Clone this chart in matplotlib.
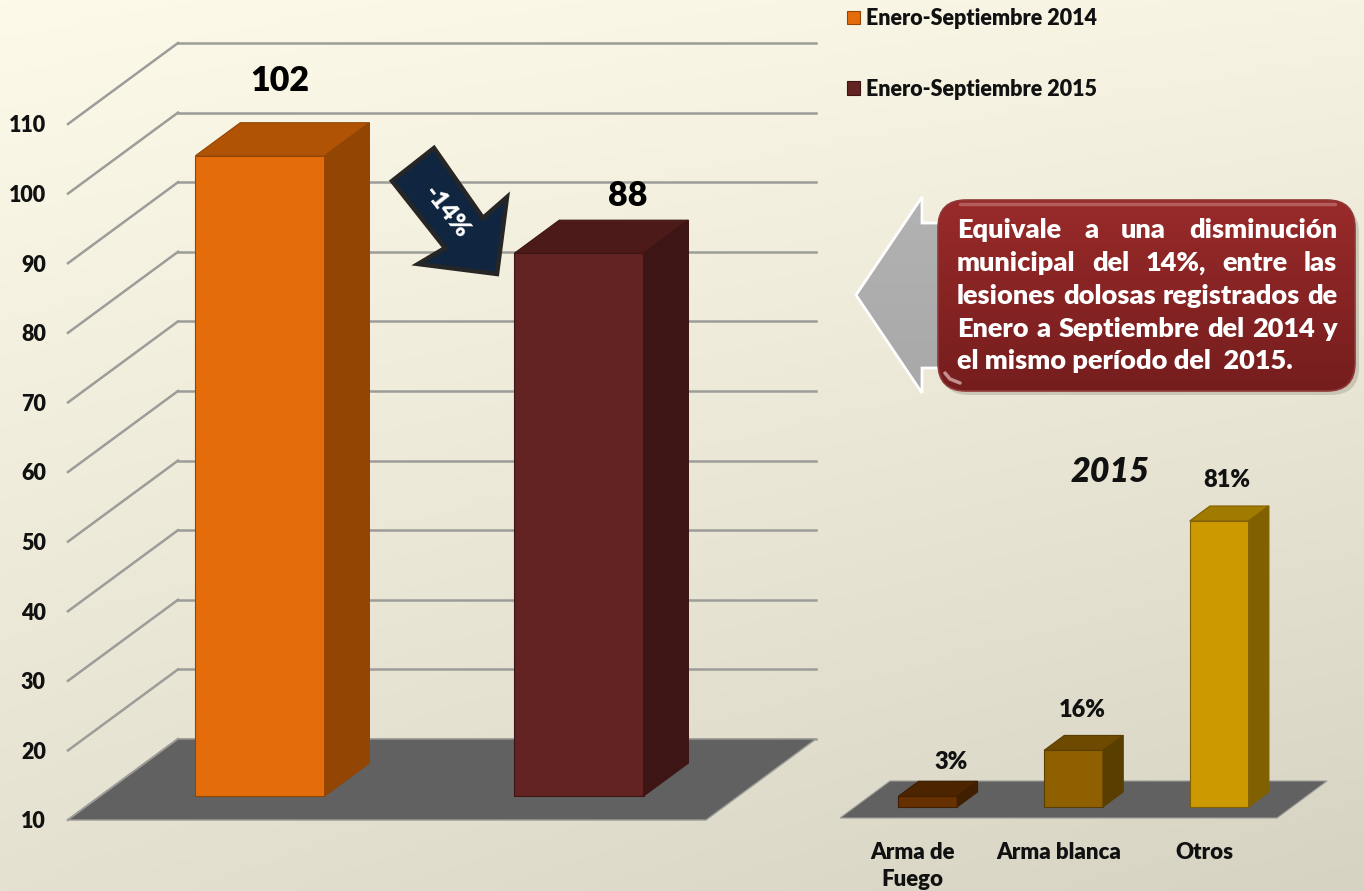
import numpy as np
import matplotlib
matplotlib.use("Agg")
import matplotlib.pyplot as plt
from matplotlib.patches import Polygon, FancyBboxPatch

# main chart
years = ["Enero-Septiembre 2014", "Enero-Septiembre 2015"]
lesiones = [102, 88]
ticks_main = [10, 20, 30, 40, 50, 60, 70, 80, 90, 100, 110]
colors_main = [("#e56c0a", "#b15305", "#934503"), ("#622322", "#4b1a19", "#3d1514")]

# small chart, 2015
armas = ["Arma de\nFuego", "Arma blanca", "Otros"]
porcentajes = [3, 16, 81]
colors_small = [("#663000", "#4d2400", "#3f1f00"), ("#8f6000", "#6d4a00", "#5a3e00"), ("#cc9900", "#a17a00", "#806000")]

callout_lines = ["Equivale a una disminución", "municipal del 14%, entre las",
                 "lesiones dolosas registrados de", "Enero a Septiembre del 2014 y",
                 "el mismo período del  2015."]

W, H = 1364, 891
plt.rcParams["font.family"] = ["Lato", "DejaVu Sans"]
plt.rcParams["font.weight"] = "heavy"
fig = plt.figure(figsize=(W / 100, H / 100), dpi=100)


def axes_px(left, right, top, bottom, zorder):
    a = fig.add_axes([left / W, 1 - bottom / H, (right - left) / W, (bottom - top) / H], zorder=zorder)
    a.patch.set_alpha(0)
    for s in a.spines.values():
        s.set_visible(False)
    return a


# background
bg = fig.add_axes([0, 0, 1, 1], zorder=0)
tl, tr = np.array([254, 250, 233]), np.array([246, 243, 226])
bl, br = np.array([228, 225, 208]), np.array([214, 211, 195])
u, v = np.meshgrid(np.linspace(0, 1, 200), np.linspace(0, 1, 200))
u, v = u[..., None], v[..., None]
bg.imshow(((1 - v) * ((1 - u) * tl + u * tr) + v * ((1 - u) * bl + u * br)) / 255, aspect="auto")
bg.axis("off")


def draw_box(a, x, val, base, w, d0, d1, kx, ky, cols):
    # oblique box, kx/ky = shift of the full floor depth in data units
    f, t, s = cols
    xl, xr = x - w / 2, x + w / 2
    ox0, oy0 = d0 * kx, d0 * ky
    ox1, oy1 = d1 * kx, d1 * ky
    top = val
    bar = a.bar(x + ox0, top - base, w, bottom=base + oy0, color=f, edgecolor=s, linewidth=0.8, clip_on=False, zorder=5)
    a.add_patch(Polygon([(xl + ox0, top + oy0), (xr + ox0, top + oy0), (xr + ox1, top + oy1), (xl + ox1, top + oy1)],
                        facecolor=t, edgecolor=s, linewidth=0.8, clip_on=False, zorder=5))
    a.add_patch(Polygon([(xr + ox0, base + oy0), (xr + ox0, top + oy0), (xr + ox1, top + oy1), (xr + ox1, base + oy1)],
                        facecolor=s, edgecolor=s, linewidth=0.8, clip_on=False, zorder=5))
    return bar


# main chart: front plane from x=68 to 706, 10 at y=820, 110 at y=124
ax = axes_px(68, 706, 124, 820, 2)
ax.set_xlim(0, 2)
ax.set_ylim(10, 110)
kx = 110 / 319
ky = 81 / 6.96
for t in ticks_main:
    ax.plot([0, kx], [t, t + ky], color="#9c9c98", lw=1.8, clip_on=False, zorder=1)
    ax.plot([kx, 2 + kx], [t + ky, t + ky], color="#9c9c98", lw=1.8, clip_on=False, zorder=1)
ax.add_patch(Polygon([(0, 10), (2, 10), (2 + kx, 10 + ky), (kx, 10 + ky)], facecolor="#616161", edgecolor="#9c9c98",
                     linewidth=1, clip_on=False, zorder=2))
handles = []
main_off = [(52, 99), (81, 81)]
for i, val in enumerate(lesiones):
    handles.append(draw_box(ax, i + 0.5, val, 10, 0.405, 0.296, 0.703, kx, ky, colors_main[i]))
    ax.annotate(str(val), (i + 0.5, val), xytext=main_off[i], textcoords="offset pixels",
                ha="center", va="center", fontsize=24.5, color="black", zorder=6, annotation_clip=False)
ax.set_xticks([])
ax.set_yticks(ticks_main)
ax.set_yticklabels([str(t) for t in ticks_main], fontsize=15.5, color="#111111")
ax.tick_params(axis="y", length=0, pad=16)

# small chart: front plane from x=840 to 1277, floor at y=818
ax2 = axes_px(840, 1277, 465, 818, 2)
ax2.set_xlim(0, 3)
ax2.set_ylim(0, 100)
kx2 = 50 / 145.67
ky2 = 37 / 3.53
ax2.add_patch(Polygon([(0, 0), (3, 0), (3 + kx2, ky2), (kx2, ky2)], facecolor="#616161", edgecolor="#9c9c98",
                      linewidth=0.8, clip_on=False, zorder=2))
label_off = [(38, 45), (24, 52), (23, 52)]
for i, val in enumerate(porcentajes):
    draw_box(ax2, i + 0.5, val, 0, 0.405, 0.3, 0.705, kx2, ky2, colors_small[i])
    ax2.annotate(f"{val}%", (i + 0.5, val), xytext=label_off[i], textcoords="offset pixels", ha="center", va="center",
                 fontsize=17, color="#111111", zorder=6, annotation_clip=False)
ax2.set_yticks([])
ax2.set_xticks([0.5, 1.5, 2.5])
ax2.set_xticklabels(armas, fontsize=16, color="#111111", linespacing=1.36)
ax2.tick_params(axis="x", length=0, pad=17)

leg = fig.legend(handles, years, loc="upper left", bbox_to_anchor=(847 / W, 1 - 8 / H), frameon=False, fontsize=15.5,
                 borderaxespad=0, borderpad=0, handlelength=0.6, handleheight=0.6, handletextpad=0.3, labelspacing=2.3,
                 labelcolor="#111111")

# overlay in pixel coordinates for the drawn annotations
ov = fig.add_axes([0, 0, 1, 1], zorder=5)
ov.patch.set_alpha(0)
ov.axis("off")

ov.add_patch(Polygon([(434, 148), (392, 181), (445, 248), (418, 264), (497, 274), (507, 197), (483, 218)],
                     facecolor="#10253f", edgecolor="#262626", linewidth=3.2, joinstyle="miter", zorder=3))
ov.text(447, 212, "-14%", rotation=-52, rotation_mode="anchor", ha="center", va="center", color="white", fontsize=18, zorder=4)
ov.text(1110, 472, "2015", style="italic", ha="center", va="center", fontsize=24.5, color="#111111")

# grey arrow behind the callout
arrow = Polygon([(856, 295), (922, 197), (922, 223), (960, 223), (960, 368), (922, 368), (922, 393)],
                facecolor="none", edgecolor="white", linewidth=2, joinstyle="miter", zorder=3)
ov.add_patch(arrow)
grey = ov.imshow(np.linspace(0, 1, 100)[:, None, None] * np.array([[[-0.04, -0.04, -0.04]]]) + np.array([[[0.70, 0.70, 0.70]]]),
                 extent=(856, 960, 393, 197), aspect="auto", zorder=2)
grey.set_clip_path(Polygon(arrow.get_xy(), transform=ov.transData))

# callout box with shadow and vertical gradient
ov.add_patch(FancyBboxPatch((941, 205), 418, 190, boxstyle="round,pad=0,rounding_size=28", facecolor="#6d6a5c", alpha=0.25,
                            edgecolor="none", zorder=3))
box = FancyBboxPatch((938, 200), 417, 191, boxstyle="round,pad=0,rounding_size=28", facecolor="none", edgecolor="#8f3a38",
                     linewidth=1.2, zorder=6)
ov.add_patch(box)
grad = np.linspace(0, 1, 200)[:, None, None]
red = (1 - grad) * np.array([[[0.60, 0.165, 0.165]]]) + grad * np.array([[[0.46, 0.115, 0.115]]])
im = ov.imshow(red, extent=(938, 1355, 391, 200), aspect="auto", zorder=4)
im.set_clip_path(FancyBboxPatch((938, 200), 417, 191, boxstyle="round,pad=0,rounding_size=28", transform=ov.transData))
ov.plot([960, 1335], [204, 204], color="#c98080", lw=2.5, alpha=0.6, solid_capstyle="round", zorder=5)
ov.plot([945, 950, 960], [373, 379, 383], color="#e8c0c0", lw=2.5, alpha=0.7, solid_capstyle="round", zorder=5)
ov.set_xlim(0, W)
ov.set_ylim(H, 0)

# justified text, last line left aligned
renderer = fig.canvas.get_renderer()
x0, x1 = 957, 1337
line_y = [230, 263, 296, 329, 361]
for k, line in enumerate(callout_lines):
    if k == len(callout_lines) - 1:
        ov.text(x0, line_y[k], line, color="white", fontsize=19.5, va="center", ha="left", zorder=7)
        continue
    words = line.split()
    items = [ov.text(x0, line_y[k], w, color="white", fontsize=19.5, va="center", ha="left", zorder=7) for w in words]
    widths = [t.get_window_extent(renderer).width for t in items]
    gap = (x1 - x0 - sum(widths)) / (len(words) - 1)
    x = x0
    for t, w in zip(items, widths):
        t.set_x(x)
        x += w + gap

fig.savefig("out.png", dpi=100)
